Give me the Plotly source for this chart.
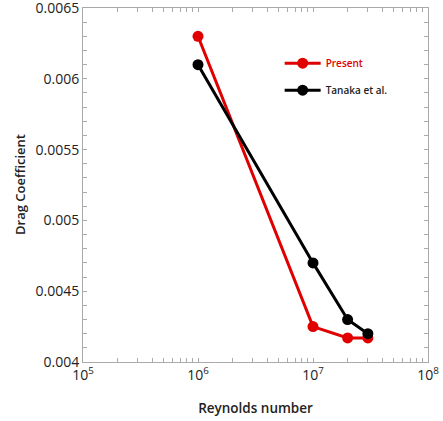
import plotly.graph_objects as go

reynolds = [1e6, 1e7, 2e7, 3e7]
present = [0.0063, 0.00425, 0.00417, 0.00417]
tanaka = [0.0061, 0.0047, 0.0043, 0.0042]

x_tick_vals = [1e5, 1e6, 1e7, 1e8]
x_tick_text = ["10<sup>5</sup>", "10<sup>6</sup>", "10<sup>7</sup>", "10<sup>8</sup>"]
y_tick_vals = [0.004, 0.0045, 0.005, 0.0055, 0.006, 0.0065]
y_tick_text = ["0.004", "0.0045", "0.005", "0.0055", "0.006", "0.0065"]

minor_x = [k * 10 ** e for e in range(5, 8) for k in range(2, 10)]

fig = go.Figure()
fig.add_trace(go.Scatter(x=reynolds, y=present, mode="lines+markers",
                         name="<span style='color:#e00000'>Present</span>",
                         legendgroup="a",
                         line=dict(color="#e00000", width=3),
                         marker=dict(color="#e00000", size=11)))
fig.add_trace(go.Scatter(x=reynolds, y=tanaka, mode="lines+markers",
                         name="Tanaka et al.",
                         legendgroup="b",
                         line=dict(color="#000000", width=3),
                         marker=dict(color="#000000", size=11)))

axis_common = dict(showgrid=False, zeroline=False, showline=True, linecolor="#aaaaaa",
                   linewidth=1, mirror="ticks", ticks="inside", tickcolor="#aaaaaa",
                   ticklen=4, tickfont=dict(size=14, color="#222"), automargin=False,
                   ticklabeloverflow="allow")

fig.update_xaxes(type="log", range=[5, 8], tickmode="array", tickvals=x_tick_vals,
                 ticktext=x_tick_text,
                 title=dict(text="Reynolds number", font=dict(size=13.5, weight=600, color="#222"),
                            standoff=20),
                 minor=dict(tickvals=minor_x, ticks="inside", ticklen=4, tickcolor="#aaaaaa"),
                 **axis_common)
fig.update_yaxes(range=[0.004, 0.0065], tickmode="array", tickvals=y_tick_vals,
                 ticktext=y_tick_text,
                 minor=dict(dtick=0.0001, tick0=0.004, ticks="inside", ticklen=4, tickcolor="#aaaaaa"),
                 **axis_common)

fig.add_annotation(text="Drag Coefficient", textangle=-90, showarrow=False,
                   xref="paper", yref="paper", x=0, y=0.5, xanchor="center", yanchor="middle",
                   xshift=-63, font=dict(size=13, weight=600, color="#222"))

fig.update_layout(width=443, height=421, margin=dict(l=83, r=15, t=8, b=59),
                  paper_bgcolor="white", plot_bgcolor="white",
                  font=dict(family="Open Sans", color="#222"),
                  showlegend=True,
                  legend=dict(x=0.57, y=0.885, xanchor="left", yanchor="top",
                              font=dict(size=10, weight=600), bgcolor="rgba(0,0,0,0)",
                              traceorder="grouped", tracegroupgap=8, itemwidth=36))
fig.write_html("out.html", config={"displayModeBar": False},
               post_script="document.body.style.margin='0px';")
